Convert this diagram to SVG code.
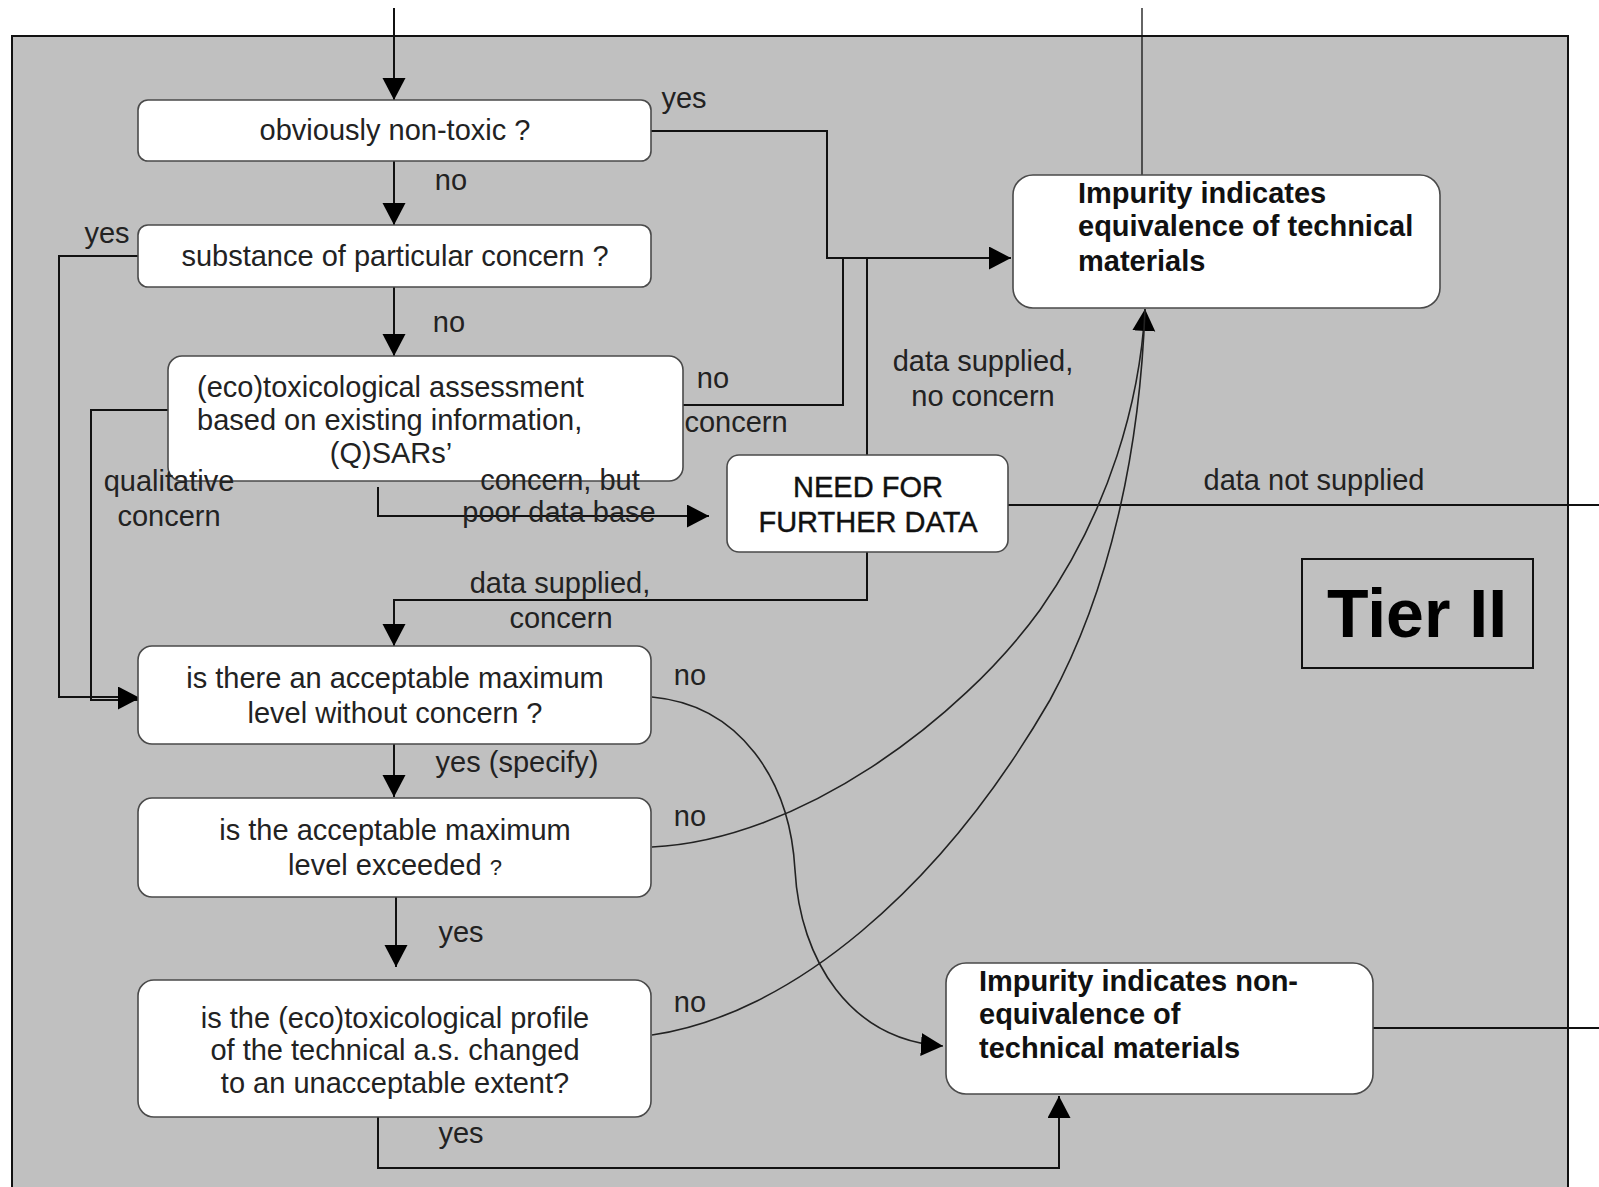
<svg xmlns="http://www.w3.org/2000/svg" width="1599" height="1187" viewBox="0 0 1599 1187">
<style>
.box{fill:#ffffff;stroke:#4a4a4a;stroke-width:1.6}
.t{font-family:"Liberation Sans",Arial,sans-serif;font-size:29px;fill:#222}
.c{text-anchor:middle}
.b{font-family:"Liberation Sans",Arial,sans-serif;font-size:29px;font-weight:bold;fill:#111}
.need{font-family:"Liberation Sans",Arial,sans-serif;font-size:29px;fill:#111;stroke:#111;stroke-width:0.4;text-anchor:middle}
.ln{fill:none;stroke:#111;stroke-width:2}
.cv{fill:none;stroke:#222;stroke-width:1.6}
</style>
<defs>
<marker id="ah" markerUnits="userSpaceOnUse" markerWidth="24" markerHeight="24" refX="22" refY="11.5" orient="auto" viewBox="0 0 24 24">
<path d="M0,0 L22,11.5 L0,23 z" fill="#000"/>
</marker>
</defs>
<rect x="0" y="0" width="1599" height="1187" fill="#ffffff"/>
<rect id="panel" x="12" y="36" width="1556" height="1170" fill="#c0c0c0" stroke="#111" stroke-width="2"/>

<g id="connectors">
<path class="ln" d="M394,8 L394,100" marker-end="url(#ah)"/>
<path class="ln" d="M1142,8 L1142,175" style="stroke-width:1.3"/>
<path class="ln" d="M394,161 L394,225" marker-end="url(#ah)"/>
<path class="ln" d="M394,287 L394,356" marker-end="url(#ah)"/>
<path class="ln" d="M651,131 L827,131 L827,258 L1011,258" marker-end="url(#ah)"/>
<path class="ln" d="M683,405 L843,405 L843,258"/>
<path class="ln" d="M867,455 L867,258"/>
<path class="ln" d="M378,487 L378,516 L709,516" marker-end="url(#ah)"/>
<path class="ln" d="M1008,505 L1599,505"/>
<path class="ln" d="M867,552 L867,600 L394,600 L394,646" marker-end="url(#ah)"/>
<path class="ln" d="M138,256 L59,256 L59,697 L120,697"/>
<path class="ln" d="M168,410 L91,410 L91,700 L147,700"/>
<path class="ln" d="M120,698 L140,698" marker-end="url(#ah)"/>
<path class="ln" d="M394,744 L394,797" marker-end="url(#ah)"/>
<path class="ln" d="M396,897 L396,967" marker-end="url(#ah)"/>
<path class="ln" d="M378,1117 L378,1168 L1059,1168 L1059,1096" marker-end="url(#ah)"/>
<path class="ln" d="M1373,1028 L1599,1028"/>
<path class="cv" d="M652,697 C740,705 790,780 795,870 C800,960 850,1040 943,1046" marker-end="url(#ah)"/>
<path class="cv" d="M652,847 C800,840 960,720 1040,610 C1110,510 1140,400 1145,309" marker-end="url(#ah)"/>
<path class="cv" d="M652,1035 C790,1015 940,890 1050,700 C1110,590 1140,450 1145,309"/>
</g>

<g id="n1">
<rect class="box" x="138" y="100" width="513" height="61" rx="10"/>
<text class="t c" x="395" y="140">obviously non-toxic ?</text>
</g>
<g id="n2">
<rect class="box" x="138" y="225" width="513" height="62" rx="10"/>
<text class="t c" x="395" y="266">substance of particular concern ?</text>
</g>
<g id="n3">
<rect class="box" x="168" y="356" width="515" height="125" rx="14"/>
<text class="t" x="197" y="397">(eco)toxicological assessment</text>
<text class="t" x="197" y="430">based on existing information,</text>
<text class="t c" x="391" y="463">(Q)SARs’</text>
</g>
<g id="n4">
<rect class="box" x="727" y="455" width="281" height="97" rx="12"/>
<text class="need" x="868" y="497">NEED FOR</text>
<text class="need" x="868" y="532">FURTHER DATA</text>
</g>
<g id="n5">
<rect class="box" x="1013" y="175" width="427" height="133" rx="20"/>
<text class="b" x="1078" y="203">Impurity indicates</text>
<text class="b" x="1078" y="236">equivalence of technical</text>
<text class="b" x="1078" y="271">materials</text>
</g>
<g id="n6">
<rect x="1302" y="559" width="231" height="109" fill="none" stroke="#111" stroke-width="2"/>
<text class="b c" x="1417" y="637" style="font-size:68px;fill:#000">Tier II</text>
</g>
<g id="n7">
<rect class="box" x="138" y="646" width="513" height="98" rx="14"/>
<text class="t c" x="395" y="688">is there an acceptable maximum</text>
<text class="t c" x="395" y="723">level without concern ?</text>
</g>
<g id="n8">
<rect class="box" x="138" y="798" width="513" height="99" rx="14"/>
<text class="t c" x="395" y="840">is the acceptable maximum</text>
<text class="t c" x="395" y="875">level exceeded <tspan style="font-size:22px">?</tspan></text>
</g>
<g id="n9">
<rect class="box" x="138" y="980" width="513" height="137" rx="16"/>
<text class="t c" x="395" y="1028">is the (eco)toxicological profile</text>
<text class="t c" x="395" y="1060">of the technical a.s. changed</text>
<text class="t c" x="395" y="1093">to an unacceptable extent?</text>
</g>
<g id="n10">
<rect class="box" x="946" y="963" width="427" height="131" rx="20"/>
<text class="b" x="979" y="991">Impurity indicates non-</text>
<text class="b" x="979" y="1024">equivalence of</text>
<text class="b" x="979" y="1058">technical materials</text>
</g>

<g id="labels">
<text class="t c" x="684" y="108">yes</text>
<text class="t c" x="451" y="190">no</text>
<text class="t c" x="107" y="243">yes</text>
<text class="t c" x="449" y="332">no</text>
<text class="t c" x="713" y="388">no</text>
<text class="t c" x="736" y="432">concern</text>
<text class="t c" x="983" y="371">data supplied,</text>
<text class="t c" x="983" y="406">no concern</text>
<text class="t c" x="169" y="491">qualitative</text>
<text class="t c" x="169" y="526">concern</text>
<text class="t c" x="560" y="490">concern, but</text>
<text class="t c" x="559" y="522">poor data base</text>
<text class="t c" x="1314" y="490">data not supplied</text>
<text class="t c" x="560" y="593">data supplied,</text>
<text class="t c" x="561" y="628">concern</text>
<text class="t c" x="690" y="685">no</text>
<text class="t c" x="517" y="772">yes (specify)</text>
<text class="t c" x="690" y="826">no</text>
<text class="t c" x="461" y="942">yes</text>
<text class="t c" x="690" y="1012">no</text>
<text class="t c" x="461" y="1143">yes</text>
</g>
</svg>
